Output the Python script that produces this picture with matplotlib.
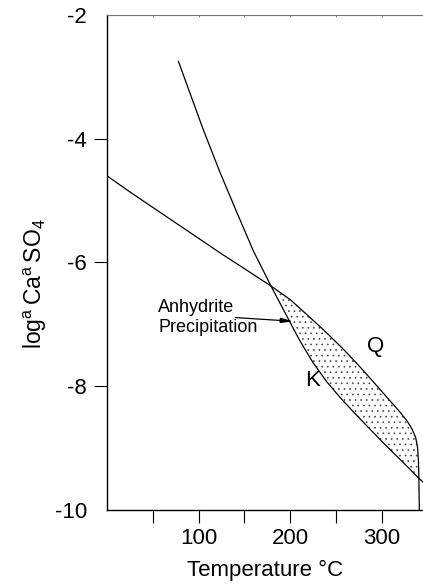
import numpy as np
import matplotlib
matplotlib.use('Agg')
from matplotlib import pyplot as plt

plt.rcParams['font.family'] = ['Liberation Sans', 'DejaVu Sans']
plt.rcParams['hatch.linewidth'] = 0.45

# curva Q (quartzo)
q_x = [0, 25, 50, 75, 100, 125, 150, 179, 200, 215, 235, 258, 277, 295, 308,
       320, 328, 333, 337, 339, 340, 340.5, 341]
q_y = [-4.60, -4.86, -5.11, -5.36, -5.61, -5.86, -6.10, -6.38, -6.60, -6.80,
       -7.07, -7.40, -7.70, -8.00, -8.22, -8.42, -8.57, -8.69, -8.83, -8.98,
       -9.20, -9.50, -10.0]

# curva K (feldspato K)
k_x = [78, 90, 105, 123, 142, 160, 179, 195, 210, 225, 240, 255, 270, 285,
       300, 317, 330, 340, 345]
k_y = [-2.75, -3.24, -3.85, -4.53, -5.20, -5.82, -6.38, -6.83, -7.25, -7.62,
       -7.93, -8.19, -8.43, -8.66, -8.89, -9.14, -9.33, -9.48, -9.55]

x_major = [100, 200, 300]
x_minor = [50, 150, 250]
y_ticks = [-10, -8, -6, -4, -2]

fig = plt.figure(figsize=(4.23, 5.87), dpi=100)
ax = fig.add_axes([0.253, 0.1312, 0.747, 0.8433])

ax.plot(q_x, q_y, color='black', lw=0.9)
ax.plot(k_x, k_y, color='black', lw=0.9)

# regiao de precipitacao: Q em cima, K embaixo, entre os cruzamentos
qx = np.array(q_x); qy = np.array(q_y)
kx = np.array(k_x); ky = np.array(k_y)
top = (qx >= 179) & (qx <= 340.5)
bot = (kx >= 179) & (kx <= 340)
px = np.concatenate([qx[top], kx[bot][::-1]])
py = np.concatenate([qy[top], ky[bot][::-1]])
ax.fill(px, py, facecolor='none', edgecolor='0.25', hatch='...', lw=0)

ax.text(56, -6.89, 'Anhydrite\nPrecipitation', fontsize=13, ha='left',
        va='center', linespacing=1.2)
ax.annotate('', xy=(203, -6.95), xytext=(140, -6.89),
            arrowprops=dict(arrowstyle='-|>,head_length=0.7,head_width=0.15',
                            color='black', lw=0.9, shrinkA=0, shrinkB=0))
ax.text(293, -7.35, 'Q', fontsize=16, ha='center', va='center')
ax.text(224, -7.9, 'K', fontsize=16, ha='center', va='center')

ax.set_xlim(0, 345)
ax.set_ylim(-10, -2)
ax.set_xticks(x_major)
ax.set_xticks(x_minor, minor=True)
ax.set_yticks(y_ticks)
ax.set_yticklabels([str(v) for v in y_ticks])
ax.tick_params(axis='both', which='both', direction='out', length=9.4,
               width=0.8, labelsize=16)
ax.tick_params(axis='x', pad=3.5)
ax.tick_params(axis='y', pad=5)
for i in (0, len(y_ticks) - 1):
    ax.yaxis.get_major_ticks()[i].tick1line.set_visible(False)

ax.spines['right'].set_visible(False)
ax.spines['top'].set_color('0.45')
ax.spines['left'].set_linewidth(1.0)
ax.spines['bottom'].set_linewidth(1.0)

sec = ax.secondary_xaxis('top')
sec.set_xticks(x_minor + x_major)
sec.tick_params(direction='in', length=1.5, width=0.6, color='0.45',
                labeltop=False)
sec.spines['top'].set_visible(False)

ax.set_xlabel('Temperature °C', fontsize=16, labelpad=8)
ax.set_ylabel(r'$\mathregular{log^a\,Ca^a\,SO_4}$', fontsize=16.5)
ax.yaxis.set_label_coords(-0.185, 0.457)

fig.savefig('out.png', dpi=100)
